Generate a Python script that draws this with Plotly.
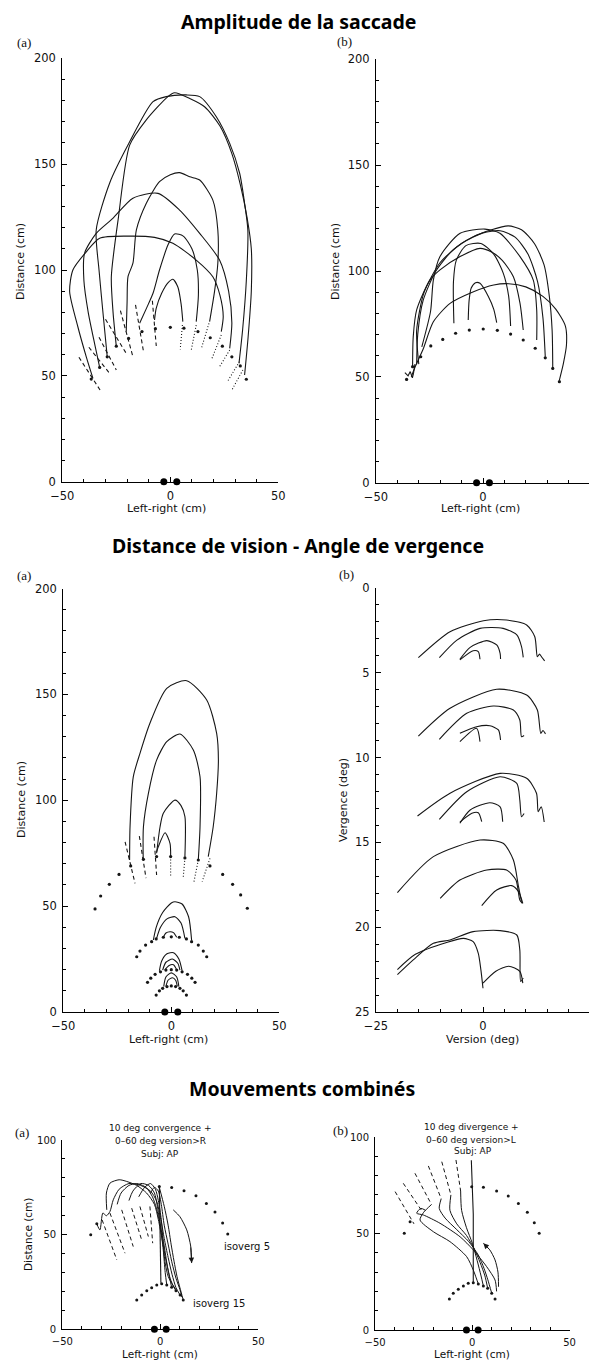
import plotly.graph_objects as go

# reference page size and the browser's default 8px body margin
PAGE_W, PAGE_H = 597, 1361
OFF = 8
W, H = PAGE_W - OFF, PAGE_H - OFF

# ================= DATA =================
# ---- Row 1 (a): saccades between symmetric targets ----
r1a_a1_x = [-35.8, -38.9, -42.8, -46.6, -45.1, -38.9, -32.7, -20.0, -7.3, 1.2, 12.0, 19.7, 23.0, 24.5, 23.6]
r1a_a1_y = [48.8, 59.0, 73.2, 89.8, 100.0, 108.6, 115.0, 116.0, 115.4, 112.6, 104.7, 96.8, 88.0, 78.0, 70.9]
r1a_a2_x = [-32.7, -35.0, -38.0, -40.0, -39.7, -34.3, -26.6, -17.3, -5.7, 4.3, 13.6, 22.8, 27.0, 28.5, 27.5]
r1a_a2_y = [54.0, 65.0, 80.0, 95.0, 107.9, 117.3, 124.4, 133.9, 136.2, 128.3, 117.3, 104.7, 90.0, 75.0, 63.0]
r1a_a3_x = [-29.2, -31.0, -33.0, -34.3, -28.1, -19.6, -8.0, -1.9, 7.4, 13.6, 21.3, 27.5, 32.1, 34.4, 35.9, 35.2, 33.5, 31.8]
r1a_a3_y = [59.0, 78.0, 100.0, 118.9, 141.0, 159.0, 179.5, 181.9, 182.7, 181.9, 172.4, 159.8, 145.7, 131.5, 118.9, 95.0, 72.0, 55.9]
r1a_a4_x = [-25.0, -26.5, -27.3, -24.0, -18.8, -11.1, -1.1, 2.0, 9.0, 16.0, 23.0, 28.5, 32.5, 35.5, 37.5, 37.5, 36.0, 34.4]
r1a_a4_y = [64.0, 80.0, 96.8, 125.0, 159.0, 170.9, 181.9, 183.7, 181.0, 177.0, 168.0, 155.0, 140.0, 125.0, 110.0, 90.0, 68.0, 50.4]
r1a_a5_x = [-20.4, -20.0, -19.6, -17.3, -15.7, -11.1, -5.0, 0.0, 4.3, 9.0, 13.6, 19.7, 22.0, 22.0, 20.5, 18.2]
r1a_a5_y = [70.9, 85.0, 96.8, 103.2, 118.9, 131.5, 141.7, 145.0, 146.0, 144.0, 142.5, 133.0, 118.9, 103.2, 90.0, 75.6]
r1a_a6_x = [-14.2, -11.0, -8.0, -5.0, -1.0, 2.0, 6.0, 10.0, 12.5, 13.0, 12.0]
r1a_a6_y = [74.8, 82.0, 89.0, 100.0, 112.0, 117.0, 116.0, 110.0, 100.0, 88.0, 75.6]
r1a_a7_x = [-7.3, -6.5, -4.0, -1.0, 1.2, 3.5, 5.0, 5.8]
r1a_a7_y = [76.4, 82.0, 89.0, 94.0, 95.6, 92.0, 84.0, 75.6]
r1a_dots_x = [-36.6, -32.7, -29.2, -25.0, -19.3, -13.1, -6.9, 0.0, 6.3, 12.8, 18.5, 24.1, 28.5, 32.4, 35.2]
r1a_dots_y = [48.5, 54.0, 59.0, 64.0, 67.7, 70.9, 72.3, 72.9, 72.5, 70.9, 68.0, 64.0, 59.0, 54.7, 48.4]
r1a_dash_x = [-42.3, -32.0, None, -37.7, -28.1, None, -33.0, -25.0, None, -30.0, -20.4, None,
              -23.1, -17.3, None, -16.1, -12.4, None, -8.3, -6.5]
r1a_dash_y = [58.8, 42.5, None, 63.5, 51.2, None, 68.2, 52.8, None, 76.7, 60.6, None,
              80.8, 59.0, None, 83.5, 61.4, None, 85.5, 64.1]
r1a_dot_x = [5.6, 4.6, None, 12.0, 9.7, None, 17.9, 14.4, None, 23.6, 19.0, None,
             27.5, 22.8, None, 32.0, 26.4, None, 33.6, 28.5]
r1a_dot_y = [74.0, 62.5, None, 74.0, 62.2, None, 74.8, 63.0, None, 69.3, 57.5, None,
             62.2, 54.3, None, 56.7, 47.2, None, 52.8, 43.3]

# ---- Row 1 (b) ----
r1b_b1_x = [-33.5, -31.6, -28.0, -23.2, -15.4, -5.0, 5.0, 12.0, 20.0, 28.0, 34.0, 38.5, 39.0, 37.5, 35.7]
r1b_b1_y = [50.0, 55.0, 63.0, 76.0, 84.7, 90.0, 93.4, 94.0, 92.5, 88.0, 82.0, 74.0, 65.0, 56.0, 48.5]
r1b_b2_x = [-32.9, -32.6, -31.0, -24.8, -20.1, -10.7, -1.4, 4.0, 9.0, 14.2, 17.3, 18.8]
r1b_b2_y = [55.0, 69.0, 81.6, 95.7, 100.5, 106.8, 110.7, 109.0, 105.0, 97.3, 84.7, 72.1]
r1b_b3_x = [-28.6, -24.5, -23.2, -20.1, -10.7, 0.9, 7.9, 17.3, 23.5, 25.1, 25.1]
r1b_b3_y = [64.2, 81.0, 95.7, 106.8, 117.8, 119.8, 117.8, 106.8, 95.7, 81.6, 67.4]
r1b_b4_x = [-31.0, -30.5, -28.0, -22.0, -14.0, -5.0, 4.0, 11.8, 18.0, 24.0, 28.5, 31.0, 32.3, 32.6]
r1b_b4_y = [56.0, 70.0, 86.0, 100.0, 110.0, 116.0, 119.5, 121.3, 119.5, 113.0, 103.0, 88.0, 72.0, 54.0]
r1b_b5_x = [-30.0, -31.0, -27.5, -20.0, -10.0, 0.0, 8.0, 15.0, 21.0, 25.5, 28.0, 29.1]
r1b_b5_y = [56.0, 72.0, 90.0, 104.0, 113.0, 118.0, 119.0, 116.0, 108.0, 95.0, 78.0, 59.5]
r1b_b6_x = [-6.9, -6.5, -5.5, -3.5, -1.4, 2.5, 5.0, 6.4]
r1b_b6_y = [76.9, 86.0, 92.0, 94.5, 94.2, 88.0, 82.0, 75.6]
r1b_b7_x = [-13.6, -13.8, -12.5, -8.0, -1.0, 5.0, 9.5, 12.0, 12.9]
r1b_b7_y = [75.3, 95.0, 105.0, 112.0, 113.0, 108.0, 98.9, 88.0, 74.0]
r1b_sq_x = [-36.5, -35.0, -34.0, -33.0, -32.5, -31.8]
r1b_sq_y = [52.0, 50.5, 52.5, 49.5, 51.5, 56.0]
r1b_dots_x = [-35.7, -32.9, -29.1, -24.4, -18.8, -12.8, -6.4, 0.1, 6.7, 12.9, 18.8, 24.4, 29.1, 32.6, 35.7]
r1b_dots_y = [48.8, 54.8, 59.5, 64.6, 67.7, 70.6, 72.1, 72.6, 72.0, 70.2, 67.4, 63.5, 59.0, 54.0, 47.7]

# ---- Row 2 (a): viewing distance ----
r2a_c1_x = [-19.3, -19.1, -17.6, -14.5, -9.9, -2.1, 7.1, 16.4, 21.0, 21.8, 21.0, 19.4, 17.1]
r2a_c1_y = [71.8, 87.5, 111.1, 122.2, 136.4, 152.9, 156.5, 147.4, 131.6, 119.0, 103.3, 87.5, 73.4]
r2a_c2_x = [-13.0, -12.9, -10.6, -6.8, -2.1, 4.0, 10.2, 13.3, 13.3, 12.5]
r2a_c2_y = [71.8, 87.5, 103.3, 119.0, 127.7, 131.3, 123.8, 111.1, 87.5, 71.8]
r2a_c3_x = [-6.8, -5.2, -3.7, 1.7, 4.5, 6.3, 6.3]
r2a_c3_y = [75.0, 87.5, 93.9, 100.1, 97.5, 92.3, 73.4]
r2a_c4_x = [-6.8, -6.0, -2.9, -0.6, -0.3]
r2a_c4_y = [75.6, 78.1, 84.7, 79.7, 73.7]
r2a_dash_x = [-21.4, -16.8, None, -14.8, -11.7, None, -8.0, -6.8]
r2a_dash_y = [80.4, 60.8, None, 83.1, 63.2, None, 82.8, 64.7]
r2a_dot_x = [-0.3, -0.3, None, 6.3, 5.5, None, 12.5, 10.5, None, 17.9, 14.3]
r2a_dot_y = [73.4, 63.9, None, 72.8, 63.2, None, 71.8, 61.6, None, 72.6, 61.6]
r2a_dots_x = [-35.3, -32.7, -28.7, -24.2, -18.8, -12.9, -6.8, -0.3, 6.3, 12.5, 17.9, 23.8, 28.4, 32.1, 35.2]
r2a_dots_y = [48.7, 54.8, 60.3, 65.0, 69.0, 72.1, 73.4, 73.4, 72.8, 71.8, 69.0, 65.0, 60.3, 55.3, 49.0]
r2a_s1_x = [-8.3, -7.0, -4.0, 0.0, 1.7, 5.0, 8.0, 9.4]
r2a_s1_y = [34.0, 40.0, 47.0, 51.5, 52.1, 51.0, 45.0, 34.0]
r2a_s2_x = [-6.8, -5.0, -2.0, 1.7, 4.5, 6.3]
r2a_s2_y = [34.8, 40.0, 44.0, 45.0, 42.0, 34.8]
r2a_s3_x = [-3.7, -2.5, -0.6, 1.0, 2.5]
r2a_s3_y = [35.3, 37.3, 37.9, 37.5, 35.3]
r2a_d1_x = [-16.0, -14.5, -11.9, -9.1, -7.0, -3.7, 0.0, 3.7, 7.0, 9.4, 12.5, 14.8, 16.4]
r2a_d1_y = [26.1, 28.8, 31.6, 33.2, 34.5, 35.3, 35.5, 35.3, 34.5, 33.2, 31.6, 28.8, 26.1]
r2a_t1_x = [-5.5, -4.5, -2.0, 1.0, 3.5, 5.0]
r2a_t1_y = [19.5, 24.0, 27.5, 28.0, 25.0, 19.5]
r2a_t2_x = [-4.0, -2.5, 0.5, 3.0, 4.0]
r2a_t2_y = [19.8, 23.5, 25.0, 23.0, 19.8]
r2a_t3_x = [-3.0, -1.0, 1.0, 2.5]
r2a_t3_y = [19.9, 22.0, 22.3, 19.9]
r2a_d2_x = [-11.0, -9.5, -7.5, -5.0, -2.5, 0.0, 2.5, 5.0, 7.5, 9.5, 11.0]
r2a_d2_y = [14.0, 16.0, 17.8, 19.0, 19.8, 20.0, 19.8, 19.0, 17.8, 16.0, 14.0]
r2a_u1_x = [-3.5, -2.5, 0.0, 2.5, 3.5]
r2a_u1_y = [12.0, 16.5, 18.5, 16.5, 12.0]
r2a_u2_x = [-2.5, -1.5, 0.5, 2.0, 2.8]
r2a_u2_y = [12.1, 15.0, 16.2, 15.0, 12.1]
r2a_d3_x = [-7.0, -5.5, -4.0, -2.0, 0.0, 2.0, 4.0, 5.5, 7.0]
r2a_d3_y = [8.0, 10.0, 11.2, 12.0, 12.3, 12.0, 11.2, 10.0, 8.0]

# ---- Row 2 (b): version / vergence ----
r2b_g1a_x = [-15.1, -7.7, 0.1, 5.5, 10.2, 12.1, 12.7, 13.2, 13.8, 14.4]
r2b_g1a_y = [4.11, 2.58, 1.93, 1.89, 2.18, 2.87, 4.05, 3.9, 4.1, 4.3]
r2b_g1b_x = [-10.2, -6.1, -0.7, 4.7, 7.9, 9.0, 9.4]
r2b_g1b_y = [4.11, 3.07, 2.38, 2.38, 2.77, 3.46, 4.09]
r2b_g1c_x = [-5.4, -3.0, 0.9, 3.2, 4.0, 4.1]
r2b_g1c_y = [4.2, 3.5, 3.1, 3.36, 3.85, 4.19]
r2b_g1d_x = [-5.4, -2.3, -1.1, -0.7]
r2b_g1d_y = [4.24, 3.7, 3.75, 4.2]
r2b_g2a_x = [-15.1, -7.7, 3.2, 10.2, 12.7, 13.5, 14.0, 14.6]
r2b_g2a_y = [8.73, 7.09, 5.97, 6.31, 7.19, 8.57, 8.4, 8.6]
r2b_g2b_x = [-10.2, -3.8, 2.4, 7.1, 8.6, 9.0, 9.6]
r2b_g2b_y = [8.92, 7.39, 6.96, 7.19, 7.78, 8.77, 8.7]
r2b_g2c_x = [-5.4, -1.5, 1.6, 3.6, 4.1]
r2b_g2c_y = [8.57, 8.18, 8.12, 8.37, 8.96]
r2b_g2d_x = [-5.4, -1.5, -0.7]
r2b_g2d_y = [9.06, 8.27, 9.06]
r2b_g3a_x = [-15.3, -7.7, 4.0, 10.2, 12.5, 12.9, 13.6, 14.3]
r2b_g3a_y = [13.44, 12.1, 10.93, 11.22, 12.1, 13.19, 12.9, 13.8]
r2b_g3b_x = [-10.2, -3.8, 4.0, 7.9, 8.6, 9.0, 9.6]
r2b_g3b_y = [13.64, 12.01, 11.13, 11.52, 12.5, 13.49, 13.3]
r2b_g3c_x = [-5.4, -3.0, 1.6, 4.0, 4.6]
r2b_g3c_y = [13.87, 13.09, 12.66, 12.9, 13.78]
r2b_g3d_x = [-5.4, -2.6, -1.1, -0.3]
r2b_g3d_y = [13.8, 13.28, 13.25, 13.78]
r2b_g4a_x = [-20.0, -11.6, -0.7, 4.7, 7.1, 8.3, 9.0]
r2b_g4a_y = [17.96, 15.84, 14.86, 15.05, 16.04, 17.61, 18.5]
r2b_g4b_x = [-10.0, -5.4, 0.9, 5.5, 7.7, 8.6, 9.2]
r2b_g4b_y = [18.3, 17.22, 16.63, 16.63, 17.22, 18.4, 18.6]
r2b_g4c_x = [-0.3, 3.2, 6.7, 8.3, 9.3]
r2b_g4c_y = [18.73, 17.81, 17.55, 17.9, 18.6]
r2b_g5a_x = [-20.0, -16.3, -11.6, -7.7, -2.3, 4.0, 7.9, 8.6, 8.8, 9.4]
r2b_g5a_y = [22.8, 21.93, 20.95, 20.75, 20.26, 20.2, 20.46, 21.34, 23.2, 23.0]
r2b_g5b_x = [-20.0, -15.8, -8.5, -4.6, -2.3, -1.1, -0.5, 0.0]
r2b_g5b_y = [22.5, 21.6, 20.9, 20.66, 20.85, 21.54, 22.5, 23.6]
r2b_g5c_x = [0.0, 3.0, 6.0, 8.6, 9.3]
r2b_g5c_y = [23.3, 22.6, 22.3, 22.6, 23.3]

# ---- Row 3 (a): 10 deg convergence + version > R ----
r3a_c1_x = [-32.4, -30.8, -29.3, -27.5, -25.7, -24.0, -21.0, -16.0, -10.0, -5.0, -2.0, 0.3, 2.0, 4.0, 6.0, 8.0, 10.1]
r3a_c1_y = [55.7, 52.5, 61.4, 60.0, 62.2, 68.4, 74.0, 77.0, 76.0, 73.0, 68.0, 58.0, 48.0, 38.0, 29.0, 22.0, 18.1]
r3a_c2_x = [-27.3, -27.5, -25.7, -21.0, -17.1, -12.0, -7.0, -3.0, -1.0, 1.0, 3.0, 5.0, 7.0, 8.0]
r3a_c2_y = [63.1, 72.0, 77.2, 79.0, 78.1, 76.0, 72.0, 66.0, 58.0, 47.0, 36.0, 27.0, 22.0, 20.4]
r3a_c3_x = [-22.0, -20.0, -16.0, -12.0, -9.0, -6.9, -4.0, -2.0, 0.0, 2.0, 3.5, 5.0, 5.8]
r3a_c3_y = [66.0, 72.0, 76.0, 77.0, 76.0, 74.6, 70.0, 64.0, 55.0, 44.0, 34.0, 26.0, 22.2]
r3a_c4_x = [-16.0, -14.0, -10.0, -6.0, -3.0, -1.5, 0.0, 1.5, 2.5, 3.3]
r3a_c4_y = [68.0, 73.0, 77.0, 76.0, 72.0, 65.0, 55.0, 42.0, 30.0, 23.4]
r3a_c5_x = [-11.0, -8.0, -5.0, -2.5, -1.0, 0.5, 1.5, 2.5, 4.0, 6.0, 8.0]
r3a_c5_y = [70.0, 75.0, 77.0, 74.0, 68.0, 58.0, 45.0, 35.0, 28.0, 24.0, 21.0]
r3a_c6_x = [-5.0, -3.0, -1.0, 0.5, 2.0, 4.0, 6.0, 8.0, 10.0, 11.0]
r3a_c6_y = [72.0, 75.0, 73.0, 66.0, 55.0, 45.0, 35.0, 27.0, 21.0, 17.0]
r3a_c7_x = [-0.5, 2.0, 4.0, 5.5, 7.0, 8.5, 10.0, 11.7]
r3a_c7_y = [75.0, 65.0, 55.0, 45.0, 36.0, 28.0, 22.0, 15.5]
r3a_vert_x = [-0.5, 0.3]
r3a_vert_y = [75.4, 24.6]
r3a_dash_x = [-29.7, -22.2, None, -25.7, -18.0, None, -19.7, -13.8, None, -14.6, -9.5, None, -10.4, -6.1, None, -5.3, -3.9]
r3a_dash_y = [57.8, 36.7, None, 61.4, 40.2, None, 63.1, 43.7, None, 64.0, 47.2, None, 64.9, 49.0, None, 64.9, 45.5]
r3a_out_x = [-35.5, -32.4, -0.5, 5.8, 12.1, 18.2, 23.5, 27.9, 31.8, 34.4]
r3a_out_y = [49.9, 55.7, 75.4, 74.9, 73.2, 70.5, 66.5, 61.9, 56.1, 50.4]
r3a_in_x = [-12.0, -9.5, -6.9, -4.4, -1.8, 0.7, 3.3, 5.8, 8.0, 10.1, 11.7]
r3a_in_y = [15.5, 18.1, 20.4, 22.0, 23.4, 24.0, 23.4, 22.2, 20.4, 18.1, 15.5]
r3a_arrow_x = [6.6, 10.0, 13.5, 15.5, 16.0]
r3a_arrow_y = [63.1, 59.5, 52.5, 44.0, 35.0]

# ---- Row 3 (b): 10 deg divergence + version > L ----
r3b_s1_x = [-24.0, -26.5, -28.6, -25.2, -16.6, -6.3, 0.5, 7.4, 11.7, 12.5]
r3b_s1_y = [62.0, 63.0, 60.5, 59.6, 55.3, 48.3, 41.5, 32.8, 25.9, 20.0]
r3b_s2_x = [-21.0, -25.0, -26.9, -20.0, -11.5, -2.9, 0.5, 2.0, 3.1]
r3b_s2_y = [65.0, 61.0, 57.0, 50.9, 45.8, 38.0, 31.1, 27.0, 23.8]
r3b_s3_x = [-16.0, -17.0, -14.0, -8.0, -2.0, 3.0, 6.0, 8.0, 10.0]
r3b_s3_y = [68.0, 63.0, 58.0, 52.0, 46.0, 39.0, 32.0, 26.0, 19.0]
r3b_s4_x = [-11.0, -11.5, -8.0, -3.0, 1.0, 4.0, 6.5, 7.9]
r3b_s4_y = [70.0, 62.0, 55.0, 49.0, 42.0, 35.0, 28.0, 21.6]
r3b_s5_x = [-6.0, -5.5, -3.0, 0.0, 2.5, 4.5, 5.7]
r3b_s5_y = [72.0, 62.0, 53.0, 45.0, 36.0, 28.0, 22.8]
r3b_vert_x = [-0.5, 0.5, 0.5]
r3b_vert_y = [88.0, 60.0, 24.5]
r3b_dash_x = [-39.7, -30.0, None, -35.5, -25.5, None, -29.5, -21.0, None, -22.6, -16.0, None, -15.7, -11.0, None, -8.4, -6.0]
r3b_dash_y = [71.7, 55.0, None, 76.0, 61.0, None, 81.2, 65.0, None, 85.0, 68.0, None, 87.2, 70.0, None, 88.1, 72.0]
r3b_out_x = [-35.0, -32.0, -0.3, 5.7, 12.5, 18.5, 23.7, 28.3, 31.9, 34.4]
r3b_out_y = [50.1, 56.1, 74.2, 73.9, 72.0, 69.4, 65.6, 61.0, 55.6, 50.1]
r3b_in_x = [-11.8, -9.8, -7.2, -4.6, -2.1, 0.5, 3.1, 5.7, 7.9, 10.0, 11.7]
r3b_in_y = [16.1, 19.0, 21.1, 22.8, 24.2, 24.5, 23.8, 22.8, 21.6, 19.0, 16.1]
r3b_arrow_x = [13.5, 13.2, 11.7, 9.0, 5.7]
r3b_arrow_y = [22.4, 30.0, 36.3, 41.5, 44.9]

eyes_x = [-3, 3]
eyes_y = [0, 0]

# ================= FIGURE =================
fig = go.Figure()
INK = "#161616"


def ax_id(p):
    return ("x" if p == 1 else f"x{p}"), ("y" if p == 1 else f"y{p}")


def curve(p, xs, ys, dash="solid", width=1.1, shape="spline"):
    xa, ya = ax_id(p)
    fig.add_trace(go.Scatter(x=xs, y=ys, mode="lines", xaxis=xa, yaxis=ya,
                             line=dict(color=INK, width=width, dash=dash, shape=shape, smoothing=0.7),
                             hoverinfo="skip", showlegend=False, connectgaps=False))


def dots(p, xs, ys, size=3.2):
    xa, ya = ax_id(p)
    fig.add_trace(go.Scatter(x=xs, y=ys, mode="markers", xaxis=xa, yaxis=ya,
                             marker=dict(color=INK, size=size, line=dict(width=0)),
                             hoverinfo="skip", showlegend=False))


def eyes(p):
    xa, ya = ax_id(p)
    fig.add_trace(go.Scatter(x=eyes_x, y=eyes_y, mode="markers", xaxis=xa, yaxis=ya,
                             marker=dict(color="black", size=7, line=dict(width=0)),
                             cliponaxis=False, hoverinfo="skip", showlegend=False))


DASH = "4px,3px"
DOT = "1px,2px"

# Row 1 a
for xs, ys in [(r1a_a1_x, r1a_a1_y), (r1a_a2_x, r1a_a2_y), (r1a_a3_x, r1a_a3_y), (r1a_a4_x, r1a_a4_y),
               (r1a_a5_x, r1a_a5_y), (r1a_a6_x, r1a_a6_y), (r1a_a7_x, r1a_a7_y)]:
    curve(1, xs, ys)
curve(1, r1a_dash_x, r1a_dash_y, dash=DASH, shape="linear")
curve(1, r1a_dot_x, r1a_dot_y, dash=DOT, shape="linear")
dots(1, r1a_dots_x, r1a_dots_y)
eyes(1)

# Row 1 b
for xs, ys in [(r1b_b1_x, r1b_b1_y), (r1b_b2_x, r1b_b2_y), (r1b_b3_x, r1b_b3_y), (r1b_b4_x, r1b_b4_y),
               (r1b_b5_x, r1b_b5_y), (r1b_b6_x, r1b_b6_y), (r1b_b7_x, r1b_b7_y)]:
    curve(2, xs, ys)
curve(2, r1b_sq_x, r1b_sq_y, shape="linear")
dots(2, r1b_dots_x, r1b_dots_y)
eyes(2)

# Row 2 a
for xs, ys in [(r2a_c1_x, r2a_c1_y), (r2a_c2_x, r2a_c2_y), (r2a_c3_x, r2a_c3_y), (r2a_c4_x, r2a_c4_y),
               (r2a_s1_x, r2a_s1_y), (r2a_s2_x, r2a_s2_y), (r2a_s3_x, r2a_s3_y),
               (r2a_t1_x, r2a_t1_y), (r2a_t2_x, r2a_t2_y), (r2a_t3_x, r2a_t3_y),
               (r2a_u1_x, r2a_u1_y), (r2a_u2_x, r2a_u2_y)]:
    curve(3, xs, ys)
curve(3, r2a_dash_x, r2a_dash_y, dash=DASH, shape="linear")
curve(3, r2a_dot_x, r2a_dot_y, dash=DOT, shape="linear")
dots(3, r2a_dots_x, r2a_dots_y)
dots(3, r2a_d1_x, r2a_d1_y)
dots(3, r2a_d2_x, r2a_d2_y)
dots(3, r2a_d3_x, r2a_d3_y)
eyes(3)

# Row 2 b
for xs, ys in [(r2b_g1a_x, r2b_g1a_y), (r2b_g1b_x, r2b_g1b_y), (r2b_g1c_x, r2b_g1c_y), (r2b_g1d_x, r2b_g1d_y),
               (r2b_g2a_x, r2b_g2a_y), (r2b_g2b_x, r2b_g2b_y), (r2b_g2c_x, r2b_g2c_y), (r2b_g2d_x, r2b_g2d_y),
               (r2b_g3a_x, r2b_g3a_y), (r2b_g3b_x, r2b_g3b_y), (r2b_g3c_x, r2b_g3c_y), (r2b_g3d_x, r2b_g3d_y),
               (r2b_g4a_x, r2b_g4a_y), (r2b_g4b_x, r2b_g4b_y), (r2b_g4c_x, r2b_g4c_y),
               (r2b_g5a_x, r2b_g5a_y), (r2b_g5b_x, r2b_g5b_y), (r2b_g5c_x, r2b_g5c_y)]:
    curve(4, xs, ys)

# Row 3 a
for xs, ys in [(r3a_c1_x, r3a_c1_y), (r3a_c2_x, r3a_c2_y), (r3a_c3_x, r3a_c3_y), (r3a_c4_x, r3a_c4_y),
               (r3a_c5_x, r3a_c5_y), (r3a_c6_x, r3a_c6_y), (r3a_c7_x, r3a_c7_y)]:
    curve(5, xs, ys, width=1.0)
curve(5, r3a_vert_x, r3a_vert_y, shape="linear")
curve(5, r3a_dash_x, r3a_dash_y, dash=DASH, shape="linear", width=1.0)
curve(5, r3a_arrow_x, r3a_arrow_y, width=1.0)
dots(5, r3a_out_x, r3a_out_y, size=3)
dots(5, r3a_in_x, r3a_in_y, size=3)
eyes(5)

# Row 3 b
for xs, ys in [(r3b_s1_x, r3b_s1_y), (r3b_s2_x, r3b_s2_y), (r3b_s3_x, r3b_s3_y), (r3b_s4_x, r3b_s4_y),
               (r3b_s5_x, r3b_s5_y)]:
    curve(6, xs, ys, width=1.0)
curve(6, r3b_vert_x, r3b_vert_y, shape="linear")
curve(6, r3b_dash_x, r3b_dash_y, dash=DASH, shape="linear", width=1.0)
curve(6, r3b_arrow_x, r3b_arrow_y, width=1.0)
dots(6, r3b_out_x, r3b_out_y, size=3)
dots(6, r3b_in_x, r3b_in_y, size=3)
eyes(6)

# ================= AXES =================
TICKFONT = dict(family="DejaVu Sans", size=11.5, color="#111")
TICKFONT3 = dict(family="DejaVu Sans", size=10, color="#111")


def dx(a, b):
    return [(a - OFF) / W, (b - OFF) / W]


def dy(top, bottom):
    return [1 - (bottom - OFF) / H, 1 - (top - OFF) / H]


def axis(dom, rng, tickvals, minor, anchor, font, standoff):
    return dict(domain=dom, range=rng, tickvals=tickvals, showline=True, linecolor="black",
                linewidth=1.2, ticks="inside", ticklen=5, tickwidth=1.1, tickcolor="black",
                minor=dict(ticks="inside", ticklen=3, tickwidth=1, tickcolor="black", dtick=minor, showgrid=False),
                showgrid=False, zeroline=False, tickfont=font, anchor=anchor, fixedrange=True,
                ticklabelstandoff=standoff)


lay = dict(width=W, height=H, margin=dict(l=0, r=0, t=0, b=0, autoexpand=False), paper_bgcolor="white",
           plot_bgcolor="white", showlegend=False)

lay["xaxis"] = axis(dx(62.3, 278.3), [-50, 50], [-50, 0, 50], 10, "y", TICKFONT, 3)
lay["yaxis"] = axis(dy(58.3, 481.7), [0, 200], [0, 50, 100, 150, 200], 10, "x", TICKFONT, 3)
lay["xaxis2"] = axis(dx(376, 590), [-50, 50], [-50, 0, 50], 10, "y2", TICKFONT, 3)
lay["yaxis2"] = axis(dy(59.3, 482.7), [0, 200], [0, 50, 100, 150, 200], 10, "x2", TICKFONT, 3)
lay["xaxis3"] = axis(dx(63.3, 279.3), [-50, 50], [-50, 0, 50], 10, "y3", TICKFONT, 3)
lay["yaxis3"] = axis(dy(588.6, 1012), [0, 200], [0, 50, 100, 150, 200], 10, "x3", TICKFONT, 3)
lay["xaxis4"] = axis(dx(376, 590), [-25, 25], [-25, 0, 25], 5, "y4", TICKFONT, 3)
lay["yaxis4"] = axis(dy(588, 1012), [25, 0], [0, 5, 10, 15, 20, 25], 1, "x4", TICKFONT, 3)
lay["xaxis5"] = axis(dx(62.3, 258.3), [-50, 50], [-50, 0, 50], 10, "y5", TICKFONT3, 3)
lay["yaxis5"] = axis(dy(1140, 1329.3), [0, 100], [0, 50, 100], 10, "x5", TICKFONT3, 3)
lay["xaxis6"] = axis(dx(375.1, 569.5), [-50, 50], [-50, 0, 50], 10, "y6", TICKFONT3, 3)
lay["yaxis6"] = axis(dy(1137, 1330), [0, 100], [0, 50, 100], 10, "x6", TICKFONT3, 3)

fig.update_layout(**lay)

# ================= TEXT =================
ann = []


def txt(x, y, s, size=11, family="DejaVu Sans", angle=0, bold=False, color="#111"):
    if bold:
        s = f"<b>{s}</b>"
    ann.append(dict(x=(x - OFF) / W, y=1 - (y - OFF) / H, xref="paper", yref="paper", text=s, showarrow=False,
                    font=dict(family=family, size=size, color=color), textangle=angle,
                    xanchor="center", yanchor="middle"))


TITLE_FONT = "Noto Sans"
txt(298, 21, "Amplitude de la saccade", size=19.5, family=TITLE_FONT, bold=True, color="black")
txt(298, 545, "Distance de vision - Angle de vergence", size=19.5, family=TITLE_FONT, bold=True, color="black")
txt(302, 1088, "Mouvements combinés", size=19.5, family=TITLE_FONT, bold=True, color="black")

SERIF = "Liberation Serif"
txt(24, 42, "(a)", size=13, family=SERIF)
txt(344, 41, "(b)", size=13, family=SERIF)
txt(24, 575, "(a)", size=13, family=SERIF)
txt(346, 574, "(b)", size=13, family=SERIF)
txt(22, 1132, "(a)", size=13, family=SERIF)
txt(340, 1130, "(b)", size=13, family=SERIF)

txt(20, 262, "Distance (cm)", size=11, angle=-90)
txt(335, 262, "Distance (cm)", size=11, angle=-90)
txt(21, 800, "Distance (cm)", size=11, angle=-90)
txt(343, 800, "Vergence (deg)", size=11, angle=-90)
txt(28, 1235, "Distance (cm)", size=10.5, angle=-90)

txt(166, 508, "Left-right (cm)", size=11)
txt(480, 508, "Left-right (cm)", size=11)
txt(168, 1039, "Left-right (cm)", size=11)
txt(483, 1039, "Version (deg)", size=11)
txt(160, 1354, "Left-right (cm)", size=10.5)
txt(472, 1354, "Left-right (cm)", size=10.5)

txt(160, 1128, "10 deg convergence +", size=9)
txt(160, 1141, "0\u201360 deg version>R", size=9)
txt(160, 1154, "Subj: AP", size=9)
txt(471, 1127, "10 deg divergence +", size=9)
txt(471, 1140, "0\u201360 deg version>L", size=9)
txt(473, 1151, "Subj: AP", size=9)

ann.append(dict(x=31.5, y=44.0, xref="x5", yref="y5", text="isoverg 5", showarrow=False,
                font=dict(family="DejaVu Sans", size=10, color="#111"), xanchor="left", yanchor="middle"))
ann.append(dict(x=15.5, y=13.8, xref="x5", yref="y5", text="isoverg 15", showarrow=False,
                font=dict(family="DejaVu Sans", size=10, color="#111"), xanchor="left", yanchor="middle"))

# arrow heads
ann.append(dict(x=r3a_arrow_x[-1], y=r3a_arrow_y[-1], ax=r3a_arrow_x[-2], ay=r3a_arrow_y[-2],
                xref="x5", yref="y5", axref="x5", ayref="y5", text="", showarrow=True,
                arrowhead=2, arrowsize=1.1, arrowwidth=1.0, arrowcolor=INK))
ann.append(dict(x=r3b_arrow_x[-1], y=r3b_arrow_y[-1], ax=r3b_arrow_x[-2], ay=r3b_arrow_y[-2],
                xref="x6", yref="y6", axref="x6", ayref="y6", text="", showarrow=True,
                arrowhead=2, arrowsize=1.1, arrowwidth=1.0, arrowcolor=INK))

fig.update_layout(annotations=ann)
fig.write_html("out.html")
